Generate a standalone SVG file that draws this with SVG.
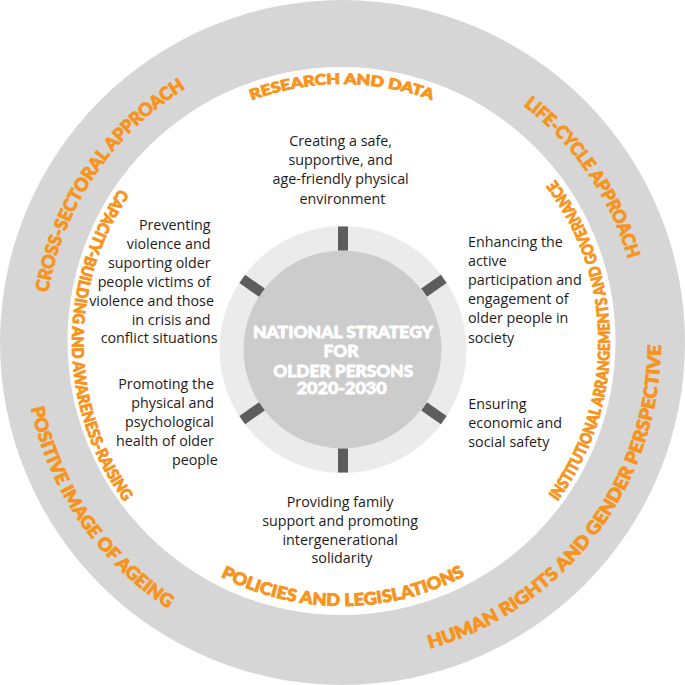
<svg xmlns="http://www.w3.org/2000/svg" xmlns:xlink="http://www.w3.org/1999/xlink" width="685" height="685" viewBox="0 0 685 685">
  <style>
    .body { font-family: "Open Sans", "Liberation Sans", sans-serif; font-size: 14.3px; fill: #1f1b1c; }
    .ring { font-family: "Lato", "Roboto", "Liberation Sans", sans-serif; font-weight: 900; fill: #f7941d; stroke: #f7941d; stroke-width: 0.9px; stroke-linejoin: round; }
    .outer { font-size: 18px; }
    .title { font-family: "Lato", "Roboto", "Liberation Sans", sans-serif; font-weight: 900; font-size: 17px; fill: #ffffff; stroke: #ffffff; stroke-width: 0.8px; stroke-linejoin: round; text-anchor: middle; }
    .tick { fill: #5d5d5d; }
  </style>
  <defs>
    <path id="p-cross" d="M48.09,292.82 A298,298 0 0 1 186.29,87.91"/>
    <path id="p-life" d="M523.41,105.58 A298,298 0 0 1 628.46,259.86"/>
    <path id="p-human" d="M429.93,648.64 A319,319 0 0 0 660.99,343.67"/>
    <path id="p-positive" d="M30.95,408.12 A318,318 0 0 0 168.80,608.70"/>
    <path id="p-research" d="M251.64,100.34 A258,258 0 0 1 432.36,100.34"/>
    <path id="p-policies" d="M220.51,576.38 A264,264 0 0 0 465.53,575.32"/>
    <path id="p-capacity" d="M119.75,188.68 A270,270 0 0 0 124.68,502.22"/>
    <path id="p-institutional" d="M557.43,501.41 A268,268 0 0 0 554.62,178.85"/>
  </defs>

  <g id="outer-ring">
    <circle cx="342.5" cy="342.5" r="342.5" fill="#d6d6d6"/>
    <circle cx="341.5" cy="341" r="274" fill="#ffffff"/>
  </g>

  <g id="outer-labels">
    <text class="ring outer"><textPath xlink:href="#p-cross" href="#p-cross" textLength="254" lengthAdjust="spacingAndGlyphs">CROSS-SECTORAL APPROACH</textPath></text>
    <text class="ring outer"><textPath xlink:href="#p-life" href="#p-life" textLength="189" lengthAdjust="spacingAndGlyphs">LIFE-CYCLE APPROACH</textPath></text>
    <text class="ring outer"><textPath xlink:href="#p-human" href="#p-human" textLength="409" lengthAdjust="spacingAndGlyphs">HUMAN RIGHTS AND GENDER PERSPECTIVE</textPath></text>
    <text class="ring outer"><textPath xlink:href="#p-positive" href="#p-positive" textLength="249" lengthAdjust="spacingAndGlyphs">POSITIVE IMAGE OF AGEING</textPath></text>
  </g>

  <g id="inner-labels">
    <text class="ring" font-size="14.5"><textPath xlink:href="#p-research" href="#p-research" textLength="184" lengthAdjust="spacingAndGlyphs">RESEARCH AND DATA</textPath></text>
    <text class="ring" font-size="17"><textPath xlink:href="#p-policies" href="#p-policies" textLength="254" lengthAdjust="spacingAndGlyphs">POLICIES AND LEGISLATIONS</textPath></text>
    <text class="ring" font-size="16"><textPath xlink:href="#p-capacity" href="#p-capacity" textLength="334" lengthAdjust="spacingAndGlyphs">CAPACITY-BUILDING AND AWARENESS-RAISING</textPath></text>
    <text class="ring" font-size="16"><textPath xlink:href="#p-institutional" href="#p-institutional" textLength="345" lengthAdjust="spacingAndGlyphs">INSTITUTIONAL ARRANGEMENTS AND GOVERNANCE</textPath></text>
  </g>

  <g id="center">
    <circle cx="343" cy="349.5" r="123.5" fill="#ebebeb"/>
    <circle cx="342.5" cy="349.5" r="99" fill="#cccccc"/>
    <text class="title" x="343" y="338.3" textLength="180" lengthAdjust="spacingAndGlyphs">NATIONAL STRATEGY</text>
    <text class="title" x="341" y="357.3" textLength="35" lengthAdjust="spacingAndGlyphs">FOR</text>
    <text class="title" x="343.3" y="376.7" textLength="140" lengthAdjust="spacingAndGlyphs">OLDER PERSONS</text>
    <text class="title" x="341.7" y="394" textLength="90" lengthAdjust="spacingAndGlyphs">2020-2030</text>
  </g>

  <g id="ticks">
    <rect class="tick" x="338" y="226.5" width="10" height="24" transform="rotate(0 343 349.5)"/>
    <rect class="tick" x="338" y="226.5" width="10" height="24" transform="rotate(55 343 349.5)"/>
    <rect class="tick" x="338" y="226.5" width="10" height="24" transform="rotate(125 343 349.5)"/>
    <rect class="tick" x="338" y="226.5" width="10" height="24" transform="rotate(180 343 349.5)"/>
    <rect class="tick" x="338" y="226.5" width="10" height="24" transform="rotate(235 343 349.5)"/>
    <rect class="tick" x="338" y="226.5" width="10" height="24" transform="rotate(305 343 349.5)"/>
  </g>

  <g id="node-environment">
    <text class="body" text-anchor="middle">
      <tspan x="342.5" y="146">Creating a safe,</tspan>
      <tspan x="342.5" y="165.2">supportive, and</tspan>
      <tspan x="342.5" y="184.4">age-friendly physical</tspan>
      <tspan x="342.5" y="203.6">environment</tspan>
    </text>
  </g>

  <g id="node-violence">
    <text class="body" text-anchor="end">
      <tspan x="214.3" y="229.8">Preventing</tspan>
      <tspan x="214.3" y="248.6">violence and</tspan>
      <tspan x="214.3" y="267.6">suporting older</tspan>
      <tspan x="214.3" y="286.7">people victims of</tspan>
      <tspan x="217.7" y="305.7">violence and those</tspan>
      <tspan x="214.3" y="324.5">in crisis and</tspan>
      <tspan x="217.7" y="343.3">conflict situations</tspan>
    </text>
  </g>

  <g id="node-participation">
    <text class="body">
      <tspan x="468" y="247.3">Enhancing the</tspan>
      <tspan x="468" y="266.2">active</tspan>
      <tspan x="468" y="285.2">participation and</tspan>
      <tspan x="468" y="304.2">engagement of</tspan>
      <tspan x="468" y="323.3">older people in</tspan>
      <tspan x="468" y="342.5">society</tspan>
    </text>
  </g>

  <g id="node-health">
    <text class="body" text-anchor="end">
      <tspan x="217.7" y="389.3">Promoting the</tspan>
      <tspan x="217.7" y="408.3">physical and</tspan>
      <tspan x="217.7" y="427.3">psychological</tspan>
      <tspan x="217.7" y="446.3">health of older</tspan>
      <tspan x="217.7" y="465.3">people</tspan>
    </text>
  </g>

  <g id="node-safety">
    <text class="body">
      <tspan x="468.3" y="409">Ensuring</tspan>
      <tspan x="468.3" y="427.8">economic and</tspan>
      <tspan x="468.3" y="446.5">social safety</tspan>
    </text>
  </g>

  <g id="node-family">
    <text class="body" text-anchor="middle">
      <tspan x="342" y="506.5">Providing family</tspan>
      <tspan x="342" y="525.5">support and promoting</tspan>
      <tspan x="342" y="544.5">intergenerational</tspan>
      <tspan x="342" y="563.3">solidarity</tspan>
    </text>
  </g>
</svg>
